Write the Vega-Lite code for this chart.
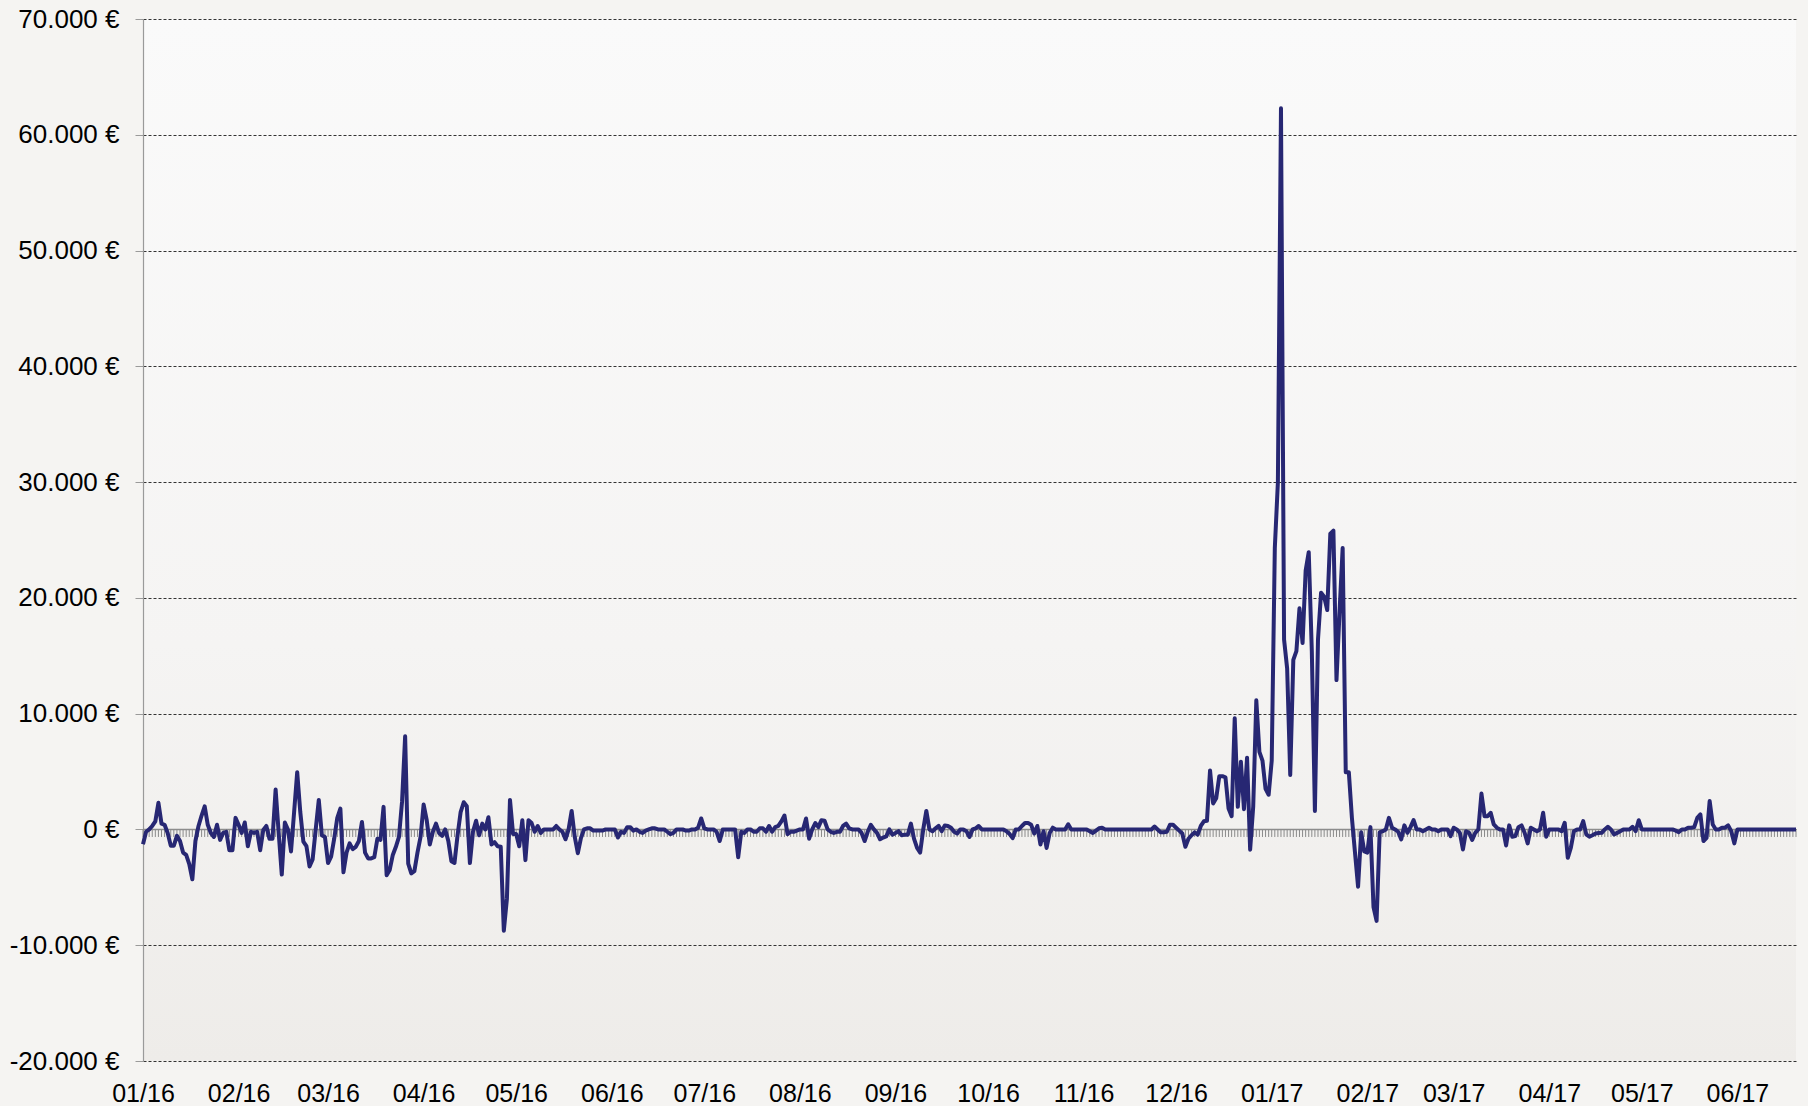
{
"$schema": "https://vega.github.io/schema/vega-lite/v6.json",
"width": 1653, "height": 1042,
"autosize": "none",
"padding": {"left": 143, "top": 19, "right": 12, "bottom": 45},
"background": "#f5f4f2",
"config": {
 "locale": {"number": {"decimal": ",", "thousands": ".", "grouping": [3], "currency": ["", " €"], "minus": "-"}},
 "view": {"stroke": null, "fill": {"gradient": "linear", "x1": 0, "y1": 0, "x2": 0, "y2": 1, "stops": [{"offset": 0, "color": "#fafafa"}, {"offset": 0.6, "color": "#f5f4f3"}, {"offset": 1, "color": "#eeece9"}]}},
 "font": "Liberation Sans"
},
"datasets": {"s": [
{"d":"2016-01-01","v":-1270},{"d":"2016-01-02","v":-200},{"d":"2016-01-03","v":0},{"d":"2016-01-04","v":300},{"d":"2016-01-05","v":700},{"d":"2016-01-06","v":2300},{"d":"2016-01-07","v":500},{"d":"2016-01-08","v":400},{"d":"2016-01-09","v":-300},{"d":"2016-01-10","v":-1400},{"d":"2016-01-11","v":-1400},{"d":"2016-01-12","v":-550},{"d":"2016-01-13","v":-1000},{"d":"2016-01-14","v":-2000},{"d":"2016-01-15","v":-2200},{"d":"2016-01-16","v":-3000},{"d":"2016-01-17","v":-4300},{"d":"2016-01-18","v":-1000},{"d":"2016-01-19","v":300},{"d":"2016-01-20","v":1200},{"d":"2016-01-21","v":2000},{"d":"2016-01-22","v":400},{"d":"2016-01-23","v":-300},{"d":"2016-01-24","v":-650},{"d":"2016-01-25","v":400},{"d":"2016-01-26","v":-900},{"d":"2016-01-27","v":-300},{"d":"2016-01-28","v":-200},{"d":"2016-01-29","v":-1800},{"d":"2016-01-30","v":-1800},{"d":"2016-01-31","v":1000},
{"d":"2016-02-01","v":400},{"d":"2016-02-02","v":-300},{"d":"2016-02-03","v":600},{"d":"2016-02-04","v":-1450},{"d":"2016-02-05","v":-200},{"d":"2016-02-06","v":-300},{"d":"2016-02-07","v":-200},{"d":"2016-02-08","v":-1800},{"d":"2016-02-09","v":-50},{"d":"2016-02-10","v":300},{"d":"2016-02-11","v":-800},{"d":"2016-02-12","v":-800},{"d":"2016-02-13","v":3450},{"d":"2016-02-14","v":-300},{"d":"2016-02-15","v":-3900},{"d":"2016-02-16","v":600},{"d":"2016-02-17","v":0},{"d":"2016-02-18","v":-1900},{"d":"2016-02-19","v":1500},{"d":"2016-02-20","v":4950},{"d":"2016-02-21","v":1500},{"d":"2016-02-22","v":-1050},{"d":"2016-02-23","v":-1450},{"d":"2016-02-24","v":-3200},{"d":"2016-02-25","v":-2600},{"d":"2016-02-26","v":0},{"d":"2016-02-27","v":2550},{"d":"2016-02-28","v":-500},{"d":"2016-02-29","v":-650},
{"d":"2016-03-01","v":-2900},{"d":"2016-03-02","v":-2350},{"d":"2016-03-03","v":-800},{"d":"2016-03-04","v":1000},{"d":"2016-03-05","v":1800},{"d":"2016-03-06","v":-3700},{"d":"2016-03-07","v":-2000},{"d":"2016-03-08","v":-1200},{"d":"2016-03-09","v":-1700},{"d":"2016-03-10","v":-1500},{"d":"2016-03-11","v":-1000},{"d":"2016-03-12","v":650},{"d":"2016-03-13","v":-2000},{"d":"2016-03-14","v":-2500},{"d":"2016-03-15","v":-2500},{"d":"2016-03-16","v":-2400},{"d":"2016-03-17","v":-800},{"d":"2016-03-18","v":-900},{"d":"2016-03-19","v":1950},{"d":"2016-03-20","v":-3950},{"d":"2016-03-21","v":-3500},{"d":"2016-03-22","v":-2200},{"d":"2016-03-23","v":-1500},{"d":"2016-03-24","v":-650},{"d":"2016-03-25","v":2400},{"d":"2016-03-26","v":8050},{"d":"2016-03-27","v":-2950},{"d":"2016-03-28","v":-3800},{"d":"2016-03-29","v":-3600},{"d":"2016-03-30","v":-2000},{"d":"2016-03-31","v":-650},
{"d":"2016-04-01","v":2150},{"d":"2016-04-02","v":800},{"d":"2016-04-03","v":-1300},{"d":"2016-04-04","v":-200},{"d":"2016-04-05","v":500},{"d":"2016-04-06","v":-300},{"d":"2016-04-07","v":-550},{"d":"2016-04-08","v":0},{"d":"2016-04-09","v":-1000},{"d":"2016-04-10","v":-2750},{"d":"2016-04-11","v":-2900},{"d":"2016-04-12","v":-500},{"d":"2016-04-13","v":1500},{"d":"2016-04-14","v":2350},{"d":"2016-04-15","v":2000},{"d":"2016-04-16","v":-2900},{"d":"2016-04-17","v":-200},{"d":"2016-04-18","v":750},{"d":"2016-04-19","v":-500},{"d":"2016-04-20","v":500},{"d":"2016-04-21","v":0},{"d":"2016-04-22","v":1050},{"d":"2016-04-23","v":-1300},{"d":"2016-04-24","v":-1100},{"d":"2016-04-25","v":-1450},{"d":"2016-04-26","v":-1500},{"d":"2016-04-27","v":-8750},{"d":"2016-04-28","v":-6000},{"d":"2016-04-29","v":2550},{"d":"2016-04-30","v":-400},
{"d":"2016-05-01","v":-400},{"d":"2016-05-02","v":-1450},{"d":"2016-05-03","v":800},{"d":"2016-05-04","v":-2650},{"d":"2016-05-05","v":800},{"d":"2016-05-06","v":550},{"d":"2016-05-07","v":-200},{"d":"2016-05-08","v":300},{"d":"2016-05-09","v":-300},{"d":"2016-05-10","v":0},{"d":"2016-05-11","v":0},{"d":"2016-05-12","v":0},{"d":"2016-05-13","v":0},{"d":"2016-05-14","v":300},{"d":"2016-05-15","v":0},{"d":"2016-05-16","v":-200},{"d":"2016-05-17","v":-850},{"d":"2016-05-18","v":0},{"d":"2016-05-19","v":1600},{"d":"2016-05-20","v":-650},{"d":"2016-05-21","v":-2050},{"d":"2016-05-22","v":-750},{"d":"2016-05-23","v":0},{"d":"2016-05-24","v":100},{"d":"2016-05-25","v":100},{"d":"2016-05-26","v":-100},{"d":"2016-05-27","v":-100},{"d":"2016-05-28","v":-100},{"d":"2016-05-29","v":-100},{"d":"2016-05-30","v":0},{"d":"2016-05-31","v":0},
{"d":"2016-06-01","v":0},{"d":"2016-06-02","v":0},{"d":"2016-06-03","v":-700},{"d":"2016-06-04","v":-200},{"d":"2016-06-05","v":-300},{"d":"2016-06-06","v":200},{"d":"2016-06-07","v":200},{"d":"2016-06-08","v":-100},{"d":"2016-06-09","v":0},{"d":"2016-06-10","v":-200},{"d":"2016-06-11","v":-300},{"d":"2016-06-12","v":-100},{"d":"2016-06-13","v":0},{"d":"2016-06-14","v":100},{"d":"2016-06-15","v":100},{"d":"2016-06-16","v":0},{"d":"2016-06-17","v":0},{"d":"2016-06-18","v":0},{"d":"2016-06-19","v":-200},{"d":"2016-06-20","v":-400},{"d":"2016-06-21","v":-300},{"d":"2016-06-22","v":0},{"d":"2016-06-23","v":0},{"d":"2016-06-24","v":0},{"d":"2016-06-25","v":-100},{"d":"2016-06-26","v":-100},{"d":"2016-06-27","v":0},{"d":"2016-06-28","v":0},{"d":"2016-06-29","v":150},{"d":"2016-06-30","v":950},
{"d":"2016-07-01","v":100},{"d":"2016-07-02","v":0},{"d":"2016-07-03","v":0},{"d":"2016-07-04","v":0},{"d":"2016-07-05","v":-200},{"d":"2016-07-06","v":-1000},{"d":"2016-07-07","v":0},{"d":"2016-07-08","v":0},{"d":"2016-07-09","v":0},{"d":"2016-07-10","v":0},{"d":"2016-07-11","v":0},{"d":"2016-07-12","v":-2400},{"d":"2016-07-13","v":-200},{"d":"2016-07-14","v":-300},{"d":"2016-07-15","v":0},{"d":"2016-07-16","v":0},{"d":"2016-07-17","v":-200},{"d":"2016-07-18","v":-200},{"d":"2016-07-19","v":100},{"d":"2016-07-20","v":100},{"d":"2016-07-21","v":-200},{"d":"2016-07-22","v":300},{"d":"2016-07-23","v":-200},{"d":"2016-07-24","v":200},{"d":"2016-07-25","v":300},{"d":"2016-07-26","v":700},{"d":"2016-07-27","v":1200},{"d":"2016-07-28","v":-400},{"d":"2016-07-29","v":-200},{"d":"2016-07-30","v":-200},{"d":"2016-07-31","v":-100},
{"d":"2016-08-01","v":0},{"d":"2016-08-02","v":0},{"d":"2016-08-03","v":950},{"d":"2016-08-04","v":-800},{"d":"2016-08-05","v":0},{"d":"2016-08-06","v":550},{"d":"2016-08-07","v":200},{"d":"2016-08-08","v":800},{"d":"2016-08-09","v":750},{"d":"2016-08-10","v":0},{"d":"2016-08-11","v":-200},{"d":"2016-08-12","v":-300},{"d":"2016-08-13","v":-200},{"d":"2016-08-14","v":-200},{"d":"2016-08-15","v":300},{"d":"2016-08-16","v":500},{"d":"2016-08-17","v":100},{"d":"2016-08-18","v":0},{"d":"2016-08-19","v":0},{"d":"2016-08-20","v":0},{"d":"2016-08-21","v":-300},{"d":"2016-08-22","v":-1000},{"d":"2016-08-23","v":-200},{"d":"2016-08-24","v":400},{"d":"2016-08-25","v":0},{"d":"2016-08-26","v":-300},{"d":"2016-08-27","v":-850},{"d":"2016-08-28","v":-700},{"d":"2016-08-29","v":-600},{"d":"2016-08-30","v":0},{"d":"2016-08-31","v":-450},
{"d":"2016-09-01","v":-300},{"d":"2016-09-02","v":-150},{"d":"2016-09-03","v":-500},{"d":"2016-09-04","v":-450},{"d":"2016-09-05","v":-450},{"d":"2016-09-06","v":500},{"d":"2016-09-07","v":-800},{"d":"2016-09-08","v":-1600},{"d":"2016-09-09","v":-2000},{"d":"2016-09-10","v":0},{"d":"2016-09-11","v":1600},{"d":"2016-09-12","v":0},{"d":"2016-09-13","v":-150},{"d":"2016-09-14","v":100},{"d":"2016-09-15","v":300},{"d":"2016-09-16","v":-150},{"d":"2016-09-17","v":350},{"d":"2016-09-18","v":300},{"d":"2016-09-19","v":150},{"d":"2016-09-20","v":-200},{"d":"2016-09-21","v":-350},{"d":"2016-09-22","v":0},{"d":"2016-09-23","v":0},{"d":"2016-09-24","v":-150},{"d":"2016-09-25","v":-650},{"d":"2016-09-26","v":0},{"d":"2016-09-27","v":100},{"d":"2016-09-28","v":300},{"d":"2016-09-29","v":0},{"d":"2016-09-30","v":0},
{"d":"2016-10-01","v":0},{"d":"2016-10-02","v":0},{"d":"2016-10-03","v":0},{"d":"2016-10-04","v":0},{"d":"2016-10-05","v":0},{"d":"2016-10-06","v":0},{"d":"2016-10-07","v":-150},{"d":"2016-10-08","v":-400},{"d":"2016-10-09","v":-750},{"d":"2016-10-10","v":0},{"d":"2016-10-11","v":0},{"d":"2016-10-12","v":300},{"d":"2016-10-13","v":550},{"d":"2016-10-14","v":550},{"d":"2016-10-15","v":400},{"d":"2016-10-16","v":-350},{"d":"2016-10-17","v":300},{"d":"2016-10-18","v":-1300},{"d":"2016-10-19","v":-150},{"d":"2016-10-20","v":-1600},{"d":"2016-10-21","v":-300},{"d":"2016-10-22","v":150},{"d":"2016-10-23","v":0},{"d":"2016-10-24","v":0},{"d":"2016-10-25","v":0},{"d":"2016-10-26","v":0},{"d":"2016-10-27","v":450},{"d":"2016-10-28","v":0},{"d":"2016-10-29","v":0},{"d":"2016-10-30","v":0},{"d":"2016-10-31","v":0},
{"d":"2016-11-01","v":0},{"d":"2016-11-02","v":0},{"d":"2016-11-03","v":-150},{"d":"2016-11-04","v":-300},{"d":"2016-11-05","v":-100},{"d":"2016-11-06","v":100},{"d":"2016-11-07","v":150},{"d":"2016-11-08","v":0},{"d":"2016-11-09","v":0},{"d":"2016-11-10","v":0},{"d":"2016-11-11","v":0},{"d":"2016-11-12","v":0},{"d":"2016-11-13","v":0},{"d":"2016-11-14","v":0},{"d":"2016-11-15","v":0},{"d":"2016-11-16","v":0},{"d":"2016-11-17","v":0},{"d":"2016-11-18","v":0},{"d":"2016-11-19","v":0},{"d":"2016-11-20","v":0},{"d":"2016-11-21","v":0},{"d":"2016-11-22","v":0},{"d":"2016-11-23","v":0},{"d":"2016-11-24","v":250},{"d":"2016-11-25","v":0},{"d":"2016-11-26","v":-250},{"d":"2016-11-27","v":-250},{"d":"2016-11-28","v":-200},{"d":"2016-11-29","v":400},{"d":"2016-11-30","v":400},
{"d":"2016-12-01","v":150},{"d":"2016-12-02","v":-100},{"d":"2016-12-03","v":-350},{"d":"2016-12-04","v":-1500},{"d":"2016-12-05","v":-800},{"d":"2016-12-06","v":-500},{"d":"2016-12-07","v":-250},{"d":"2016-12-08","v":-450},{"d":"2016-12-09","v":300},{"d":"2016-12-10","v":700},{"d":"2016-12-11","v":750},{"d":"2016-12-12","v":5100},{"d":"2016-12-13","v":2250},{"d":"2016-12-14","v":2700},{"d":"2016-12-15","v":4600},{"d":"2016-12-16","v":4600},{"d":"2016-12-17","v":4500},{"d":"2016-12-18","v":1800},{"d":"2016-12-19","v":1150},{"d":"2016-12-20","v":9600},{"d":"2016-12-21","v":1950},{"d":"2016-12-22","v":5850},{"d":"2016-12-23","v":1750},{"d":"2016-12-24","v":6200},{"d":"2016-12-25","v":-1750},{"d":"2016-12-26","v":2000},{"d":"2016-12-27","v":11150},{"d":"2016-12-28","v":6700},{"d":"2016-12-29","v":5950},{"d":"2016-12-30","v":3500},{"d":"2016-12-31","v":3000},
{"d":"2017-01-01","v":5950},{"d":"2017-01-02","v":24300},{"d":"2017-01-03","v":30000},{"d":"2017-01-04","v":62300},{"d":"2017-01-05","v":16400},{"d":"2017-01-06","v":13900},{"d":"2017-01-07","v":4700},{"d":"2017-01-08","v":14650},{"d":"2017-01-09","v":15400},{"d":"2017-01-10","v":19100},{"d":"2017-01-11","v":16100},{"d":"2017-01-12","v":22350},{"d":"2017-01-13","v":23950},{"d":"2017-01-14","v":15400},{"d":"2017-01-15","v":1600},{"d":"2017-01-16","v":16400},{"d":"2017-01-17","v":20450},{"d":"2017-01-18","v":20100},{"d":"2017-01-19","v":18950},{"d":"2017-01-20","v":25550},{"d":"2017-01-21","v":25800},{"d":"2017-01-22","v":12900},{"d":"2017-01-23","v":18850},{"d":"2017-01-24","v":24300},{"d":"2017-01-25","v":4950},{"d":"2017-01-26","v":4950},{"d":"2017-01-27","v":1000},{"d":"2017-01-28","v":-2000},{"d":"2017-01-29","v":-4950},{"d":"2017-01-30","v":-250},{"d":"2017-01-31","v":-1900},
{"d":"2017-02-01","v":-2000},{"d":"2017-02-02","v":200},{"d":"2017-02-03","v":-6700},{"d":"2017-02-04","v":-7900},{"d":"2017-02-05","v":-250},{"d":"2017-02-06","v":-150},{"d":"2017-02-07","v":0},{"d":"2017-02-08","v":1000},{"d":"2017-02-09","v":150},{"d":"2017-02-10","v":0},{"d":"2017-02-11","v":-200},{"d":"2017-02-12","v":-860},{"d":"2017-02-13","v":350},{"d":"2017-02-14","v":-290},{"d":"2017-02-15","v":200},{"d":"2017-02-16","v":800},{"d":"2017-02-17","v":0},{"d":"2017-02-18","v":0},{"d":"2017-02-19","v":-150},{"d":"2017-02-20","v":0},{"d":"2017-02-21","v":150},{"d":"2017-02-22","v":0},{"d":"2017-02-23","v":0},{"d":"2017-02-24","v":-150},{"d":"2017-02-25","v":0},{"d":"2017-02-26","v":0},{"d":"2017-02-27","v":0},{"d":"2017-02-28","v":-575},
{"d":"2017-03-01","v":150},{"d":"2017-03-02","v":0},{"d":"2017-03-03","v":-290},{"d":"2017-03-04","v":-1725},{"d":"2017-03-05","v":-150},{"d":"2017-03-06","v":-290},{"d":"2017-03-07","v":-900},{"d":"2017-03-08","v":-290},{"d":"2017-03-09","v":0},{"d":"2017-03-10","v":3100},{"d":"2017-03-11","v":1150},{"d":"2017-03-12","v":1150},{"d":"2017-03-13","v":1440},{"d":"2017-03-14","v":430},{"d":"2017-03-15","v":150},{"d":"2017-03-16","v":0},{"d":"2017-03-17","v":0},{"d":"2017-03-18","v":-1380},{"d":"2017-03-19","v":350},{"d":"2017-03-20","v":-630},{"d":"2017-03-21","v":-575},{"d":"2017-03-22","v":200},{"d":"2017-03-23","v":350},{"d":"2017-03-24","v":-290},{"d":"2017-03-25","v":-1200},{"d":"2017-03-26","v":150},{"d":"2017-03-27","v":0},{"d":"2017-03-28","v":-150},{"d":"2017-03-29","v":0},{"d":"2017-03-30","v":1440},{"d":"2017-03-31","v":-630},
{"d":"2017-04-01","v":0},{"d":"2017-04-02","v":0},{"d":"2017-04-03","v":0},{"d":"2017-04-04","v":0},{"d":"2017-04-05","v":-150},{"d":"2017-04-06","v":575},{"d":"2017-04-07","v":-2450},{"d":"2017-04-08","v":-1580},{"d":"2017-04-09","v":-150},{"d":"2017-04-10","v":0},{"d":"2017-04-11","v":0},{"d":"2017-04-12","v":720},{"d":"2017-04-13","v":-430},{"d":"2017-04-14","v":-630},{"d":"2017-04-15","v":-500},{"d":"2017-04-16","v":-350},{"d":"2017-04-17","v":-300},{"d":"2017-04-18","v":-290},{"d":"2017-04-19","v":0},{"d":"2017-04-20","v":230},{"d":"2017-04-21","v":0},{"d":"2017-04-22","v":-430},{"d":"2017-04-23","v":-300},{"d":"2017-04-24","v":-150},{"d":"2017-04-25","v":0},{"d":"2017-04-26","v":0},{"d":"2017-04-27","v":0},{"d":"2017-04-28","v":230},{"d":"2017-04-29","v":-150},{"d":"2017-04-30","v":800},
{"d":"2017-05-01","v":0},{"d":"2017-05-02","v":0},{"d":"2017-05-03","v":0},{"d":"2017-05-04","v":0},{"d":"2017-05-05","v":0},{"d":"2017-05-06","v":0},{"d":"2017-05-07","v":0},{"d":"2017-05-08","v":0},{"d":"2017-05-09","v":0},{"d":"2017-05-10","v":0},{"d":"2017-05-11","v":0},{"d":"2017-05-12","v":-100},{"d":"2017-05-13","v":-230},{"d":"2017-05-14","v":0},{"d":"2017-05-15","v":0},{"d":"2017-05-16","v":150},{"d":"2017-05-17","v":150},{"d":"2017-05-18","v":200},{"d":"2017-05-19","v":1000},{"d":"2017-05-20","v":1300},{"d":"2017-05-21","v":-1000},{"d":"2017-05-22","v":-720},{"d":"2017-05-23","v":2450},{"d":"2017-05-24","v":430},{"d":"2017-05-25","v":0},{"d":"2017-05-26","v":0},{"d":"2017-05-27","v":150},{"d":"2017-05-28","v":150},{"d":"2017-05-29","v":350},{"d":"2017-05-30","v":-150},{"d":"2017-05-31","v":-1200},
{"d":"2017-06-01","v":0},{"d":"2017-06-02","v":0},{"d":"2017-06-03","v":0},{"d":"2017-06-04","v":0},{"d":"2017-06-05","v":0},{"d":"2017-06-06","v":0},{"d":"2017-06-07","v":0},{"d":"2017-06-08","v":0},{"d":"2017-06-09","v":0},{"d":"2017-06-10","v":0},{"d":"2017-06-11","v":0},{"d":"2017-06-12","v":0},{"d":"2017-06-13","v":0},{"d":"2017-06-14","v":0},{"d":"2017-06-15","v":0},{"d":"2017-06-16","v":0},{"d":"2017-06-17","v":0},{"d":"2017-06-18","v":0},{"d":"2017-06-19","v":0},{"d":"2017-06-20","v":0}
]},
"data": {"name": "s"},
"layer": [
 {
  "mark": {"type": "rule", "color": "#8a8a8a", "strokeWidth": 1},
  "encoding": {
   "x": {"field": "d", "type": "temporal",
    "scale": {"type": "utc", "domain": [{"year": 2016, "month": 1, "date": 1, "utc": true}, {"year": 2017, "month": 6, "date": 20, "utc": true}], "nice": false},
    "axis": {"title": null, "orient": "bottom", "format": "%m/%y", "grid": false, "ticks": false, "domain": false,
     "labelFontSize": 25, "labelColor": "#000000", "labelPadding": 20, "labelFlush": false, "labelOverlap": false,
     "values": [
      {"year": 2016, "month": 1, "date": 1, "utc": true}, {"year": 2016, "month": 2, "date": 1, "utc": true}, {"year": 2016, "month": 3, "date": 1, "utc": true},
      {"year": 2016, "month": 4, "date": 1, "utc": true}, {"year": 2016, "month": 5, "date": 1, "utc": true}, {"year": 2016, "month": 6, "date": 1, "utc": true},
      {"year": 2016, "month": 7, "date": 1, "utc": true}, {"year": 2016, "month": 8, "date": 1, "utc": true}, {"year": 2016, "month": 9, "date": 1, "utc": true},
      {"year": 2016, "month": 10, "date": 1, "utc": true}, {"year": 2016, "month": 11, "date": 1, "utc": true}, {"year": 2016, "month": 12, "date": 1, "utc": true},
      {"year": 2017, "month": 1, "date": 1, "utc": true}, {"year": 2017, "month": 2, "date": 1, "utc": true}, {"year": 2017, "month": 3, "date": 1, "utc": true},
      {"year": 2017, "month": 4, "date": 1, "utc": true}, {"year": 2017, "month": 5, "date": 1, "utc": true}, {"year": 2017, "month": 6, "date": 1, "utc": true}
     ]}},
   "y": {"datum": 0, "type": "quantitative",
    "scale": {"domain": [-20000, 70000], "nice": false, "zero": false},
    "axis": {"title": null, "values": [-20000, -10000, 0, 10000, 20000, 30000, 40000, 50000, 60000, 70000],
     "format": "$,.0f", "labelFontSize": 26, "labelColor": "#000000", "labelPadding": 16,
     "tickSize": 8, "tickColor": "#9a9a9a", "domainColor": "#9a9a9a", "domainWidth": 1.2,
     "grid": true, "gridColor": "#333333", "gridDash": [3, 2], "gridWidth": 1, "gridOpacity": 1}},
   "y2": {"datum": -650}
  }
 },
 {
  "data": {"values": [{}]},
  "mark": {"type": "rule", "color": "#8c8c8c", "strokeWidth": 1.5},
  "encoding": {"y": {"datum": 0, "type": "quantitative"}}
 },
 {
  "mark": {"type": "line", "color": "#272773", "strokeWidth": 4, "strokeJoin": "round"},
  "encoding": {
   "x": {"field": "d", "type": "temporal"},
   "y": {"field": "v", "type": "quantitative"}
  }
 }
]
}
